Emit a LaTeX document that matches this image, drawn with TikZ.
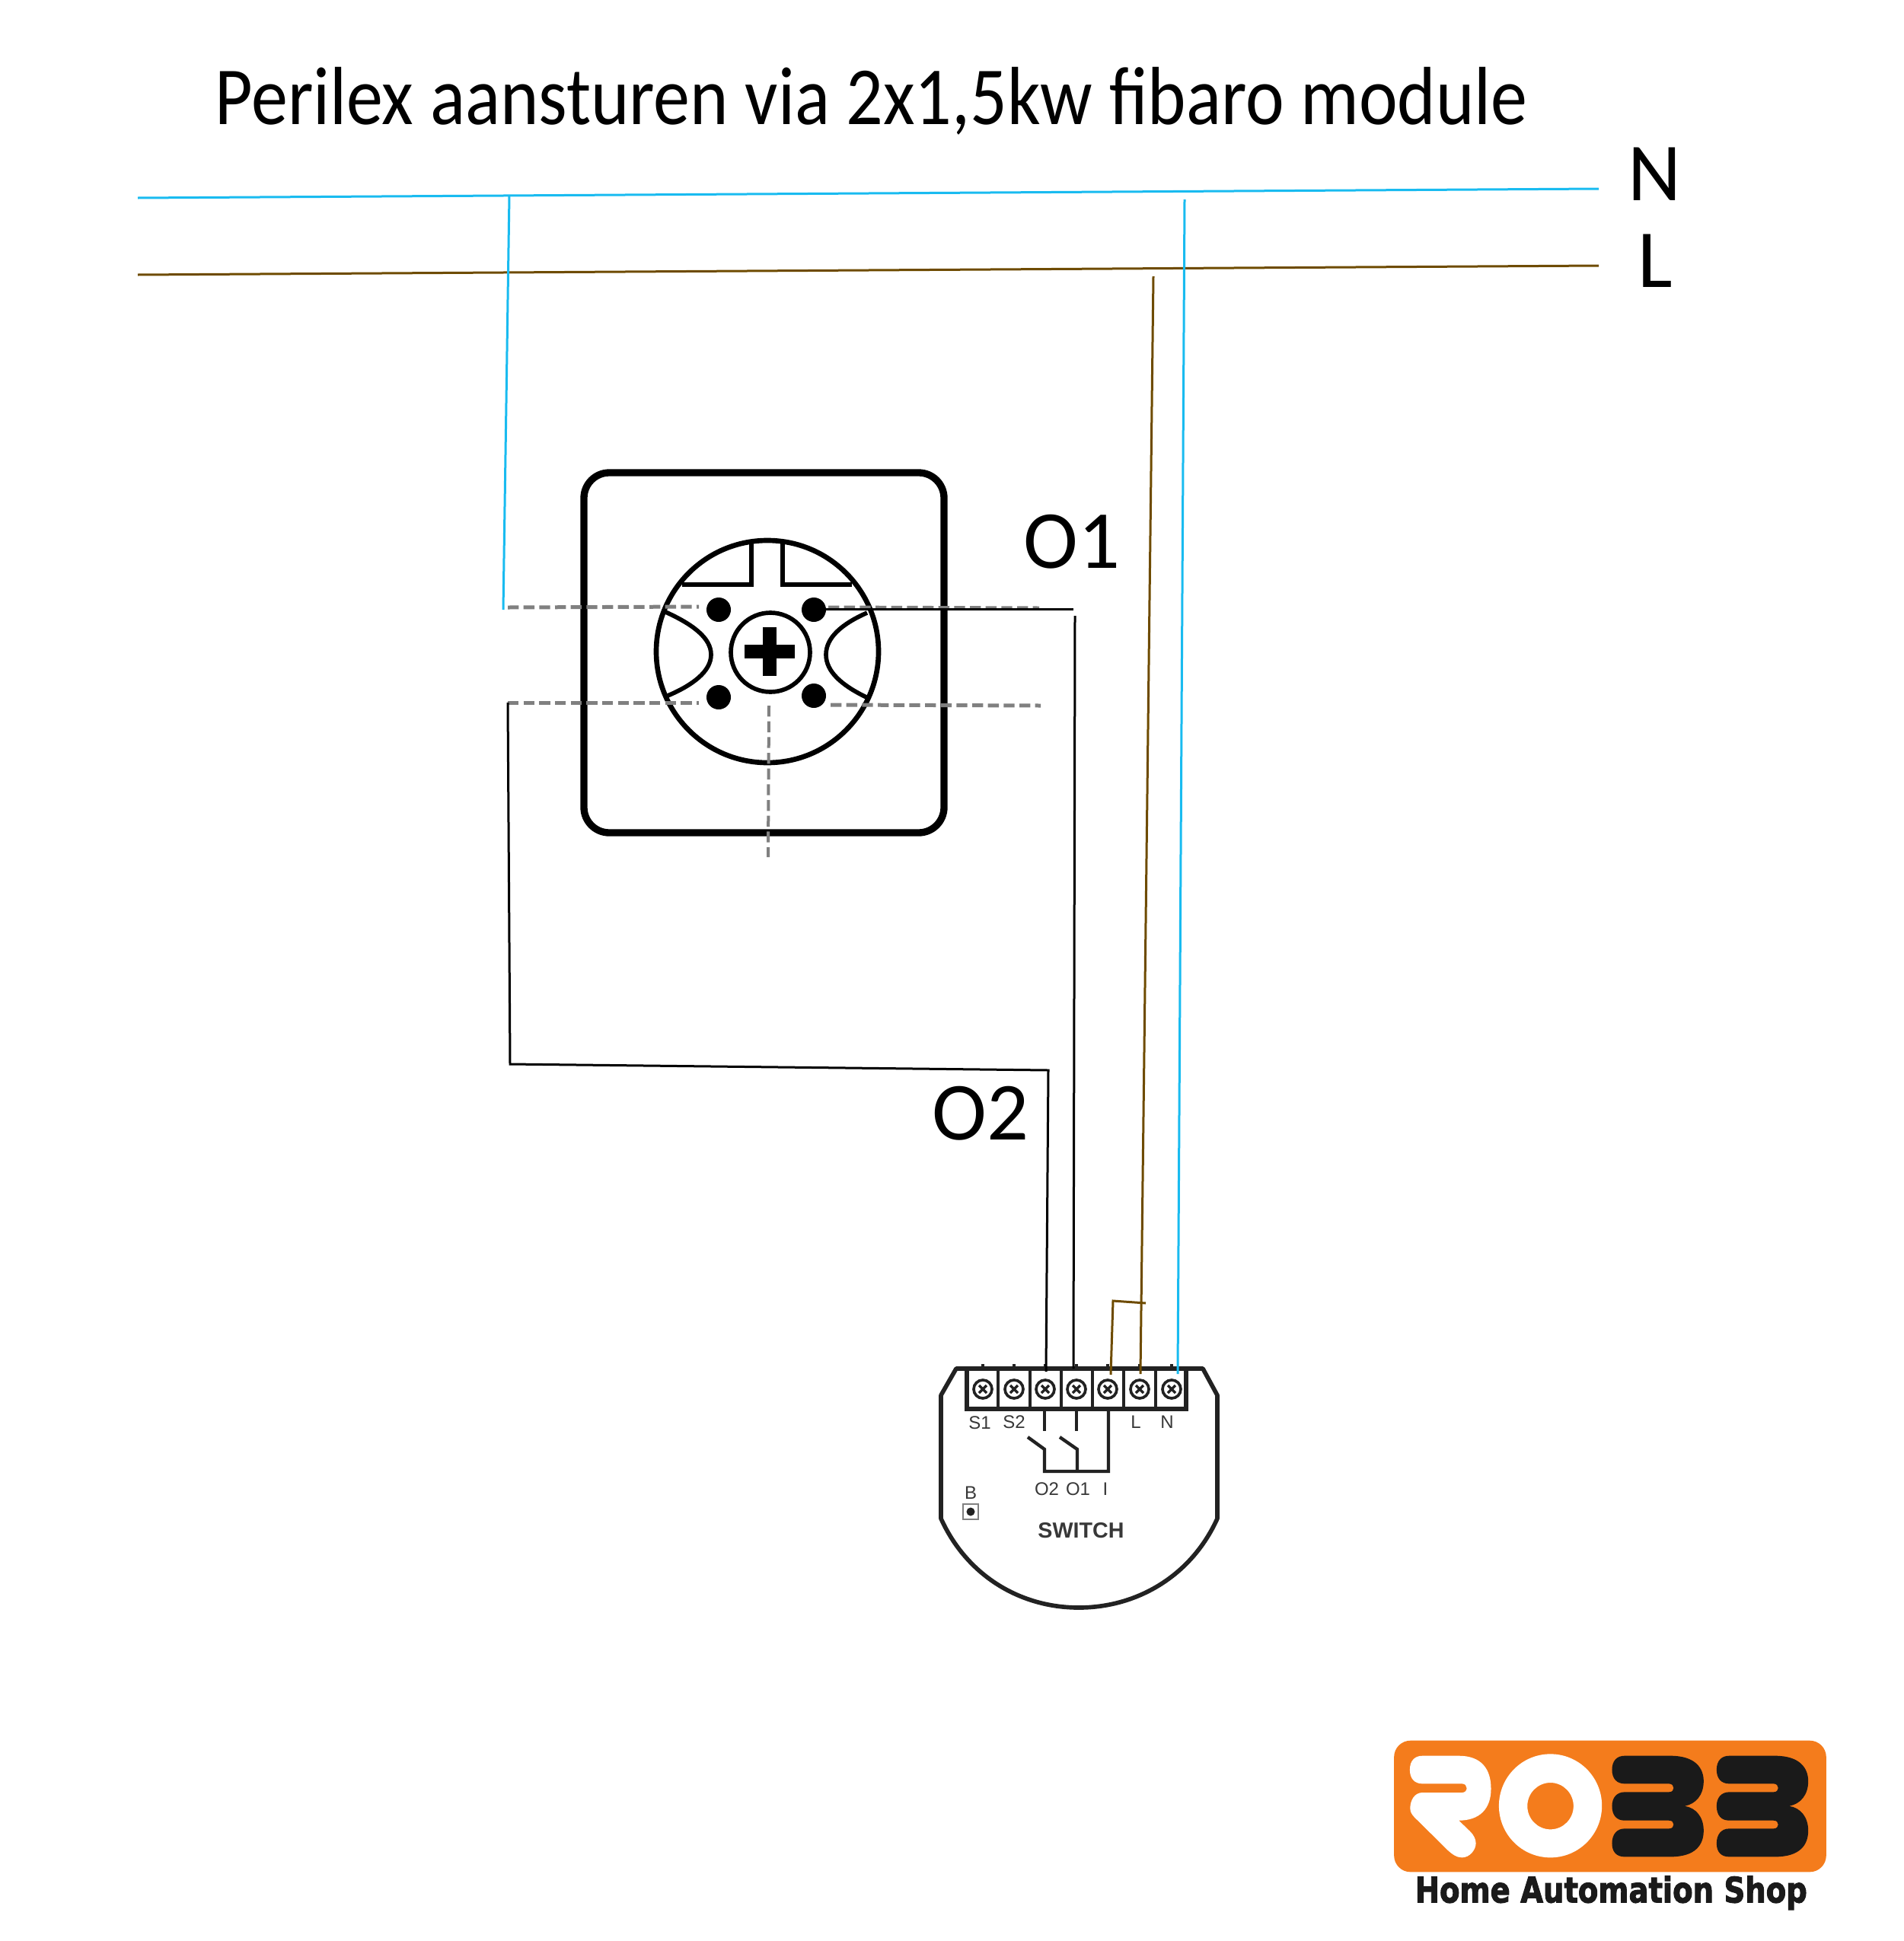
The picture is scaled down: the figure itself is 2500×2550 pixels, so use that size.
\documentclass[tikz,border=0pt]{standalone}
\usepackage{fontspec}
\setmainfont{Carlito}
\newfontfamily\modfont{Liberation Sans}
\newfontfamily\logofont{DejaVu Sans}[BoldFeatures={FakeBold=2.5}]
\definecolor{nblue}{HTML}{19BBF0}
\definecolor{lbrown}{HTML}{6E4B00}
\definecolor{dashgrey}{HTML}{808080}
\definecolor{modgrey}{HTML}{222222}
\definecolor{logoorange}{HTML}{F47C1C}
\definecolor{logoblack}{HTML}{1A1A1A}

\begin{document}
\begin{tikzpicture}[x=0.3pt, y=-0.3pt,
    neutral/.style={nblue, line width=0.9pt},
    phase/.style={lbrown, line width=0.9pt},
    switched/.style={black, line width=0.9pt},
    hidden/.style={dashgrey, line width=1.5pt, dash pattern=on 4.3pt off 1.9pt},
    socket/.style={black, line width=2pt},
    module/.style={modgrey, line width=1.7pt},
    biglabel/.style={inner sep=0pt, font=\fontsize{32.5}{32.5}\selectfont},
    modlabel/.style={inner sep=0pt, text=modgrey!90, font=\modfont\fontsize{7.2}{7.2}\selectfont}]
\useasboundingbox (0,0) rectangle (2500,2550);

\node[biglabel, anchor=base west] (title) at (282,163) {\scalebox{.886}[1]{Perilex aansturen via 2x1,5kw fibaro module}};
\node[biglabel] (lblN) at (2173,229) {N};
\node[biglabel] (lblL) at (2174,343) {L};
\node[biglabel] (lblOne) at (1408,712) {O1};
\node[biglabel] (lblTwo) at (1288,1463) {O2};

\coordinate (Nleft) at (181,260);
\coordinate (Nright) at (2100,248);
\coordinate (Lleft) at (181,361);
\coordinate (Lright) at (2100,349);
\coordinate (NtapA) at (669,257);
\coordinate (NtapB) at (1556,262);
\coordinate (LtapB) at (1515,363);
\coordinate (socketN) at (661,801);
\coordinate (socketTwo) at (667,923);
\coordinate (bendTwoA) at (670,1398);
\coordinate (bendTwoB) at (1377,1406);
\coordinate (socketOne) at (1085,800);
\coordinate (bendOne) at (1410,800);
\coordinate (wireOne) at (1412,809);
\coordinate (termTwo) at (1374,1802);
\coordinate (termOne) at (1410,1798);
\coordinate (termI) at (1459,1806);
\coordinate (termL) at (1498,1805);
\coordinate (termN) at (1547,1805);
\coordinate (jumpA) at (1462,1709);
\coordinate (jumpB) at (1505,1712);

% socket
\draw[socket, line width=2.8pt, rounded corners=10pt] (767,621) rectangle (1240,1094);
\draw[socket] (1008,856) circle (146);
\draw[socket] (896,768) -- (987,768) -- (987,713);
\draw[socket] (1119,768) -- (1028,768) -- (1028,713);
\draw[socket, line width=1.7pt] (872,803) .. controls (910,820) and (934,838) .. (934,860) .. controls (934,882) and (910,900) .. (877,914);
\draw[socket, line width=1.7pt] (1139,805) .. controls (1105,820) and (1085,838) .. (1085,860) .. controls (1085,882) and (1105,900) .. (1138,916);
\draw[socket, line width=1.7pt] (1012,857) circle (52);
\fill (978,847) rectangle (1044,865);
\fill (1002,824) rectangle (1020,888);
\foreach \dotx/\doty in {944/801, 1069/801, 944/916, 1069/914}
  \fill (\dotx,\doty) circle (16);

\draw[hidden] (667,798) -- (918,797);
\draw[hidden] (667,923) -- (918,923);
\draw[hidden] (1088,798) -- (1365,799);
\draw[hidden] (1091,926) -- (1367,927);
\draw[hidden, line width=1.2pt] (1010,927) -- (1009,1126);

% module
\draw[module, line join=round] (1256,1798) -- (1580,1798) -- (1599,1833) -- (1599,1995)
  .. controls (1565,2070) and (1494,2112) .. (1417,2112)
  .. controls (1340,2112) and (1270,2070) .. (1236,1995) -- (1236,1833) -- cycle;
\draw[module] (1270,1798) -- (1270,1851) -- (1558,1851) -- (1558,1798);
\foreach \divx in {1311,1353,1394,1435,1476,1518}
  \draw[module, line width=1.2pt] (\divx,1798) -- (\divx,1851);
\foreach \scrx in {1291,1332,1373,1414,1455,1497,1539} {
  \draw[module, line width=1pt] (\scrx,1798) -- (\scrx,1792);
  \draw[module, line width=1.1pt] (\scrx,1825) circle (12);
  \draw[module, line width=1pt] (\scrx-5,1820) -- (\scrx+5,1830) (\scrx-5,1830) -- (\scrx+5,1820);
}
\draw[module, line width=1.3pt] (1372,1851) -- (1372,1880);
\draw[module, line width=1.3pt] (1414,1851) -- (1414,1880);
\draw[module, line width=1.3pt] (1456,1851) -- (1456,1933) -- (1372,1933) -- (1372,1904) -- (1350,1888);
\draw[module, line width=1.3pt] (1415,1933) -- (1415,1904) -- (1392,1888);
\draw[dashgrey, line width=0.8pt] (1265,1976) rectangle (1285,1996);
\fill[modgrey] (1275,1986) circle (5.5);

\node[modlabel] (lblSone) at (1287,1869) {S1};
\node[modlabel] (lblStwo) at (1332,1868) {S2};
\node[modlabel] (lblLterm) at (1492,1868) {L};
\node[modlabel] (lblNterm) at (1533,1868) {N};
\node[modlabel] (lblOtwo) at (1375,1956) {O2};
\node[modlabel] (lblOone) at (1416,1956) {O1};
\node[modlabel] (lblI) at (1452,1956) {I};
\node[modlabel] (lblB) at (1275,1961) {B};
\node[modlabel, font=\modfont\bfseries\fontsize{8.6}{8.6}\selectfont] (lblSwitch) at (1420,2011) {SWITCH};

% wires
\draw[neutral] (Nleft) -- (Nright);
\draw[phase] (Lleft) -- (Lright);
\draw[neutral] (NtapA) -- (socketN);
\draw[neutral] (NtapB) -- (termN);
\draw[phase] (LtapB) -- (termL);
\draw[phase] (termI) -- (jumpA) -- (jumpB);
\draw[switched] (socketTwo) -- (bendTwoA) -- (bendTwoB) -- (termTwo);
\draw[switched] (socketOne) -- (bendOne);
\draw[switched] (wireOne) -- (termOne);

% logo
\begin{scope}[shift={(1800,2270)}, x=0.1245pt, y=-0.1pt]
\fill[logoorange, rounded corners=6.5pt] (75,50) rectangle (1443,568);
\fill[white] (165,110) -- (280,110) .. controls (350,110) and (382,160) .. (382,240)
  .. controls (382,320) and (345,365) .. (280,365) -- (315,407)
  .. controls (328,422) and (334,440) .. (334,455) .. controls (334,480) and (315,511) .. (290,511)
  .. controls (272,511) and (258,497) .. (245,482) -- (150,365)
  .. controls (135,348) and (126,335) .. (126,318) .. controls (126,285) and (140,255) .. (165,255)
  -- (290,255) .. controls (300,255) and (305,247) .. (305,237) .. controls (305,228) and (300,220) .. (290,220)
  -- (165,220) .. controls (140,220) and (125,200) .. (125,165) .. controls (125,130) and (140,110) .. (165,110) -- cycle;
\fill[white, even odd rule] (570,307) ellipse [x radius=163, y radius=204]
  (570,308) ellipse [x radius=73, y radius=92];
\foreach \threex in {0,331}
  \fill[logoblack, shift={(\threex,0)}] (805,110) -- (950,110)
    .. controls (1030,110) and (1055,160) .. (1055,210) .. controls (1055,265) and (1030,300) .. (995,308)
    .. controls (1030,315) and (1055,350) .. (1055,405) .. controls (1055,460) and (1030,508) .. (950,508)
    -- (805,508) .. controls (780,508) and (765,490) .. (765,455) .. controls (765,420) and (780,397) .. (805,397)
    -- (945,397) .. controls (955,397) and (960,390) .. (960,381) .. controls (960,372) and (955,365) .. (945,365)
    -- (805,365) .. controls (780,365) and (765,345) .. (765,308) .. controls (765,275) and (780,253) .. (805,253)
    -- (945,253) .. controls (955,253) and (960,246) .. (960,237) .. controls (960,228) and (955,220) .. (945,220)
    -- (805,220) .. controls (780,220) and (765,200) .. (765,165) .. controls (765,130) and (780,110) .. (805,110) -- cycle;
\node[inner sep=0pt, anchor=base west, text=logoblack] (shopname) at (140,688)
  {\resizebox{154.5pt}{10.5pt}{\logofont\bfseries Home Automation Shop}};
\end{scope}
\end{tikzpicture}
\end{document}
